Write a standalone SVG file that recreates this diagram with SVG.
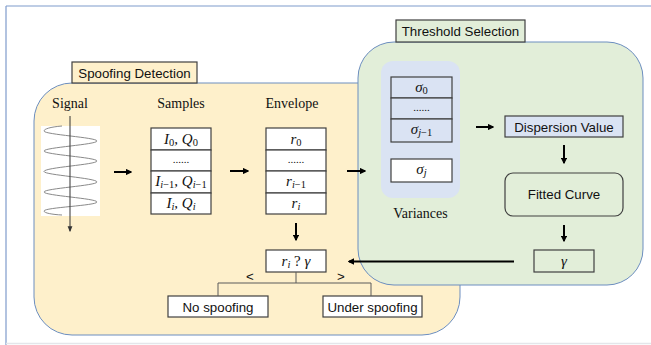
<svg xmlns="http://www.w3.org/2000/svg" width="651" height="345" viewBox="0 0 651 345">
<style>
.panel{stroke:#6c8ebf;stroke-width:1}
.box{stroke:#404040;stroke-width:1.2}
.lbl{font-family:"Liberation Sans",Arial,sans-serif;font-size:13.3px;fill:#111;text-anchor:middle}
.ser{font-family:"Liberation Serif","Times New Roman",serif;font-size:14px;fill:#111;text-anchor:middle}
.m{font-family:"Liberation Serif","Times New Roman",serif;font-style:italic;font-size:15px;fill:#111;text-anchor:middle}
.sub{font-size:10.5px}
.up{font-style:normal}
.dots{font-family:"Liberation Serif",serif;font-size:11px;fill:#111;text-anchor:middle}
.arr{stroke:#000;stroke-width:2;fill:none;marker-end:url(#ah)}
.thin{stroke:#5a5a5a;stroke-width:1;fill:none}
</style>
<defs>
<marker id="ah" viewBox="0 0 10 10" refX="8" refY="5" markerWidth="3.2" markerHeight="3.2" orient="auto"><path d="M0,0 L10,5 L0,10 z" fill="#000"/></marker>
<marker id="ahs" viewBox="0 0 10 10" refX="8" refY="5" markerWidth="6" markerHeight="6" orient="auto"><path d="M0,1 L10,5 L0,9 z" fill="#333"/></marker>
</defs>
<rect width="651" height="345" fill="#fff"/>
<g id="frame">
<line x1="6" y1="6" x2="651" y2="6" stroke="#7f9bcc" stroke-width="1.2"/>
<line x1="6" y1="6" x2="6" y2="345" stroke="#7f9bcc" stroke-width="1.2"/>
<line x1="6" y1="343.5" x2="651" y2="343.5" stroke="#e4e6ea" stroke-width="1.5"/>
</g>
<g id="spoofing-detection-panel">
<rect class="panel" x="34" y="83" width="426" height="252" rx="38" ry="38" fill="#fef0cb"/>
<rect class="box" x="72" y="62" width="125" height="21" fill="#fef0cb"/>
<text class="lbl" x="134.5" y="77.5">Spoofing Detection</text>
</g>
<g id="threshold-selection-panel">
<rect class="panel" x="358" y="42" width="285" height="243" rx="36" ry="36" fill="#e2eed9"/>
<rect class="box" x="396" y="20" width="129" height="22" fill="#e2eed9"/>
<text class="lbl" x="460.5" y="36">Threshold Selection</text>
</g>
<g id="signal">
<text class="ser" x="70" y="108">Signal</text>
<rect x="41" y="126" width="59" height="90" fill="#fff"/>
<path d="M62 126 C50 127 44 129 44 131 C44 134.6 97 137.4 97 141 C97 144.6 44 147.4 44 151 C44 154.6 97 157.4 97 161 C97 164.6 44 167.4 44 171.5 C44 175 97 178 97 182 C97 185.6 44 188.4 44 192 C44 195.6 97 198.4 97 202 C97 205.6 44 207.4 44 211 C44 213 52 214.5 62 215" fill="none" stroke="#8a8a8a" stroke-width="1"/>
<line x1="70" y1="116" x2="70" y2="231" stroke="#333" stroke-width="1" marker-end="url(#ahs)"/>
</g>
<g id="samples">
<text class="ser" x="181" y="108">Samples</text>
<g class="box" fill="#fff">
<rect x="151" y="128" width="60" height="22"/>
<rect x="151" y="150" width="60" height="21"/>
<rect x="151" y="171" width="60" height="22"/>
<rect x="151" y="193" width="60" height="21"/>
</g>
<text class="m" x="181" y="144">I<tspan class="sub up" dy="2">0</tspan><tspan dy="-2">, Q</tspan><tspan class="sub up" dy="2">0</tspan></text>
<text class="dots" x="181" y="163">......</text>
<text class="m" x="181" y="186" font-size="14.5">I<tspan class="sub" dy="2">i</tspan><tspan class="sub up">−1</tspan><tspan dy="-2">, Q</tspan><tspan class="sub" dy="2">i</tspan><tspan class="sub up">−1</tspan></text>
<text class="m" x="181" y="208">I<tspan class="sub" dy="2">i</tspan><tspan dy="-2">, Q</tspan><tspan class="sub" dy="2">i</tspan></text>
</g>
<g id="envelope">
<text class="ser" x="292" y="108">Envelope</text>
<g class="box" fill="#fff">
<rect x="266" y="128" width="60" height="22"/>
<rect x="266" y="150" width="60" height="21"/>
<rect x="266" y="171" width="60" height="22"/>
<rect x="266" y="193" width="60" height="21"/>
</g>
<text class="m" x="296" y="144">r<tspan class="sub up" dy="2">0</tspan></text>
<text class="dots" x="296" y="163">......</text>
<text class="m" x="296" y="186">r<tspan class="sub" dy="2">i</tspan><tspan class="sub up">−1</tspan></text>
<text class="m" x="296" y="208">r<tspan class="sub" dy="2">i</tspan></text>
</g>
<g id="compare">
<rect class="box" x="266" y="250" width="60" height="22" fill="#fff"/>
<text class="m" x="296" y="265.5">r<tspan class="sub" dy="2">i</tspan><tspan dy="-2" class="up"> ? </tspan>γ</text>
</g>
<g id="no-spoofing">
<rect class="box" x="168" y="296" width="100" height="21" fill="#fff"/>
<text class="lbl" x="218" y="311.5">No spoofing</text>
</g>
<g id="under-spoofing">
<rect class="box" x="323" y="296" width="99" height="21" fill="#fff"/>
<text class="lbl" x="372.5" y="311.5">Under spoofing</text>
</g>
<g id="variances">
<rect x="381" y="61" width="79" height="137" rx="12" ry="12" fill="#dae3f3"/>
<g class="box" fill="#dae3f3">
<rect x="391" y="77" width="61" height="21"/>
<rect x="391" y="98" width="61" height="21"/>
<rect x="391" y="119" width="61" height="23"/>
</g>
<rect class="box" x="391" y="159" width="61" height="23" fill="#fff"/>
<text class="m" x="421.5" y="92">σ<tspan class="sub up" dy="2">0</tspan></text>
<text class="dots" x="421.5" y="111">......</text>
<text class="m" x="421.5" y="134">σ<tspan class="sub" dy="2">j</tspan><tspan class="sub up">−1</tspan></text>
<text class="m" x="421.5" y="174">σ<tspan class="sub" dy="2">j</tspan></text>
<text class="ser" x="420.5" y="218">Variances</text>
</g>
<g id="dispersion-value">
<rect class="box" x="505" y="116" width="118" height="21" fill="#dae3f3"/>
<text class="lbl" x="564" y="131.5">Dispersion Value</text>
</g>
<g id="fitted-curve">
<rect class="box" x="505" y="173" width="118" height="43" rx="8" ry="8" fill="#e2eed9"/>
<text class="lbl" x="564" y="199" font-size="12">Fitted Curve</text>
</g>
<g id="gamma">
<rect class="box" x="534" y="250" width="60" height="22" fill="#e2eed9"/>
<text class="m" x="564" y="265.5">γ</text>
</g>
<g id="connectors">
<line class="arr" x1="114" y1="172" x2="131" y2="172"/>
<line class="arr" x1="230" y1="171" x2="248" y2="171"/>
<line class="arr" x1="347" y1="171" x2="365" y2="171"/>
<line class="arr" x1="476" y1="127" x2="493" y2="127"/>
<line class="arr" x1="564" y1="145" x2="564" y2="163"/>
<line class="arr" x1="564" y1="225" x2="564" y2="241"/>
<line class="arr" x1="296" y1="223" x2="296" y2="240"/>
<line class="arr" x1="514" y1="261.5" x2="349" y2="261.5"/>
<path class="thin" d="M296 272 V283 M218 296 V283 H371 V296"/>
<text class="lbl" x="250" y="281" font-size="12">&lt;</text>
<text class="lbl" x="341" y="281" font-size="12">&gt;</text>
</g>
</svg>
